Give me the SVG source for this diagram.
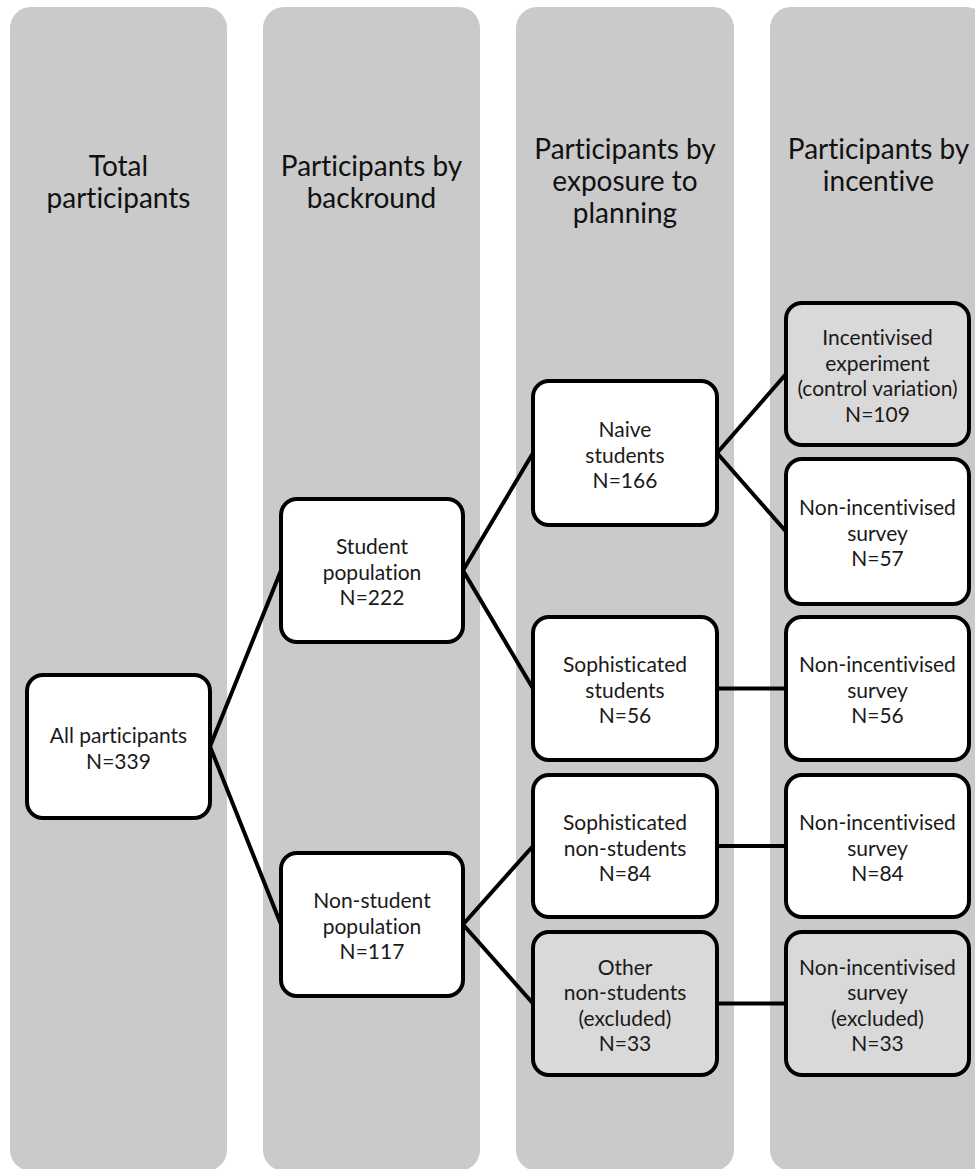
<svg xmlns="http://www.w3.org/2000/svg" width="975" height="1169" viewBox="0 0 975 1169">
  <style>
    .lane { fill: #cacaca; }
    text { font-variant-ligatures: none; font-feature-settings: "liga" 0, "dlig" 0; }
    .title { font-family: Lato, "Liberation Sans", sans-serif; font-size: 28px; fill: #111; text-anchor: middle; }
    .box { fill: #ffffff; stroke: #000; stroke-width: 4; }
    .box.muted { fill: #d9d9d9; }
    .label { font-family: Lato, "Liberation Sans", sans-serif; font-size: 21px; fill: #1a1a1a; text-anchor: middle; }
    .link { stroke: #000; stroke-width: 4; fill: none; stroke-linecap: butt; }
  </style>

  <!-- swim lanes -->
  <g id="lanes">
    <rect class="lane" x="10" y="7" width="217" height="1164" rx="21"/>
    <rect class="lane" x="263" y="7" width="217" height="1164" rx="21"/>
    <rect class="lane" x="516" y="7" width="218" height="1164" rx="21"/>
    <rect class="lane" x="770" y="7" width="217" height="1164" rx="21"/>
  </g>

  <!-- lane headings -->
  <g id="headings">
    <text class="title" x="118.5" y="176">Total</text>
    <text class="title" x="118.5" y="208">participants</text>
    <text class="title" x="371.5" y="176">Participants by</text>
    <text class="title" x="371.5" y="208">backround</text>
    <text class="title" x="625" y="159">Participants by</text>
    <text class="title" x="625" y="191">exposure to</text>
    <text class="title" x="625" y="223">planning</text>
    <text class="title" x="878.5" y="159">Participants by</text>
    <text class="title" x="878.5" y="191">incentive</text>
  </g>

  <!-- connectors -->
  <g id="connectors">
    <line class="link" x1="210" y1="746.5" x2="281" y2="570.5"/>
    <line class="link" x1="210" y1="746.5" x2="281" y2="924.5"/>
    <line class="link" x1="463" y1="570.5" x2="533" y2="453"/>
    <line class="link" x1="463" y1="570.5" x2="533" y2="688.5"/>
    <line class="link" x1="463" y1="924.5" x2="533" y2="846"/>
    <line class="link" x1="463" y1="924.5" x2="533" y2="1003.5"/>
    <line class="link" x1="717" y1="453" x2="786" y2="374"/>
    <line class="link" x1="717" y1="453" x2="786" y2="531.5"/>
    <line class="link" x1="717" y1="688.5" x2="786" y2="688.5"/>
    <line class="link" x1="717" y1="846" x2="786" y2="846"/>
    <line class="link" x1="717" y1="1003.5" x2="786" y2="1003.5"/>
  </g>

  <!-- column 1 -->
  <g id="all-participants">
    <rect class="box" x="27" y="675" width="183" height="143" rx="16"/>
    <text class="label" x="118.5" y="743">All participants</text>
    <text class="label" x="118.5" y="768.5">N=339</text>
  </g>

  <!-- column 2 -->
  <g id="student-population">
    <rect class="box" x="281" y="499" width="182" height="143" rx="16"/>
    <text class="label" x="372" y="554">Student</text>
    <text class="label" x="372" y="579.5">population</text>
    <text class="label" x="372" y="605">N=222</text>
  </g>
  <g id="non-student-population">
    <rect class="box" x="281" y="853" width="182" height="143" rx="16"/>
    <text class="label" x="372" y="908">Non-student</text>
    <text class="label" x="372" y="933.5">population</text>
    <text class="label" x="372" y="959">N=117</text>
  </g>

  <!-- column 3 -->
  <g id="naive-students">
    <rect class="box" x="533" y="381" width="184" height="144" rx="16"/>
    <text class="label" x="625" y="437">Naive</text>
    <text class="label" x="625" y="462.5">students</text>
    <text class="label" x="625" y="488">N=166</text>
  </g>
  <g id="sophisticated-students">
    <rect class="box" x="533" y="617" width="184" height="143" rx="16"/>
    <text class="label" x="625" y="672">Sophisticated</text>
    <text class="label" x="625" y="697.5">students</text>
    <text class="label" x="625" y="723">N=56</text>
  </g>
  <g id="sophisticated-non-students">
    <rect class="box" x="533" y="775" width="184" height="142" rx="16"/>
    <text class="label" x="625" y="830">Sophisticated</text>
    <text class="label" x="625" y="855.5">non-students</text>
    <text class="label" x="625" y="881">N=84</text>
  </g>
  <g id="other-non-students">
    <rect class="box muted" x="533" y="932" width="184" height="143" rx="16"/>
    <text class="label" x="625" y="974.5">Other</text>
    <text class="label" x="625" y="1000">non-students</text>
    <text class="label" x="625" y="1025.5">(excluded)</text>
    <text class="label" x="625" y="1051">N=33</text>
  </g>

  <!-- column 4 -->
  <g id="incentivised-experiment">
    <rect class="box muted" x="786" y="303" width="183" height="142" rx="16"/>
    <text class="label" x="877.5" y="345">Incentivised</text>
    <text class="label" x="877.5" y="370.5">experiment</text>
    <text class="label" x="877.5" y="396">(control variation)</text>
    <text class="label" x="877.5" y="421.5">N=109</text>
  </g>
  <g id="survey-naive">
    <rect class="box" x="786" y="459" width="183" height="145" rx="16"/>
    <text class="label" x="877.5" y="515">Non-incentivised</text>
    <text class="label" x="877.5" y="540.5">survey</text>
    <text class="label" x="877.5" y="566">N=57</text>
  </g>
  <g id="survey-sophisticated-students">
    <rect class="box" x="786" y="617" width="183" height="143" rx="16"/>
    <text class="label" x="877.5" y="672">Non-incentivised</text>
    <text class="label" x="877.5" y="697.5">survey</text>
    <text class="label" x="877.5" y="723">N=56</text>
  </g>
  <g id="survey-sophisticated-non-students">
    <rect class="box" x="786" y="775" width="183" height="142" rx="16"/>
    <text class="label" x="877.5" y="830">Non-incentivised</text>
    <text class="label" x="877.5" y="855.5">survey</text>
    <text class="label" x="877.5" y="881">N=84</text>
  </g>
  <g id="survey-excluded">
    <rect class="box muted" x="786" y="932" width="183" height="143" rx="16"/>
    <text class="label" x="877.5" y="974.5">Non-incentivised</text>
    <text class="label" x="877.5" y="1000">survey</text>
    <text class="label" x="877.5" y="1025.5">(excluded)</text>
    <text class="label" x="877.5" y="1051">N=33</text>
  </g>
</svg>
